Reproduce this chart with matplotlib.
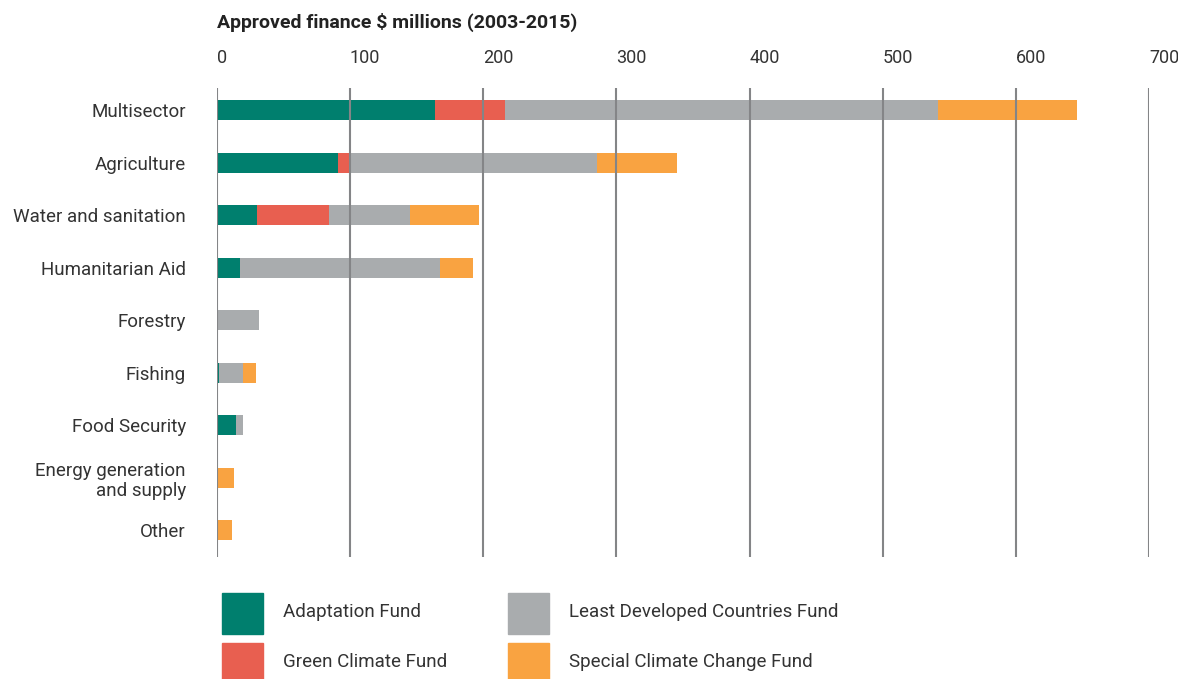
import matplotlib
matplotlib.use("Agg")
import matplotlib.pyplot as plt
from matplotlib.patches import Rectangle
import numpy as np

plt.rcParams['font.family'] = ['Roboto', 'DejaVu Sans']

# data
sectors = ['Multisector', 'Agriculture', 'Water and sanitation', 'Humanitarian Aid',
           'Forestry', 'Fishing', 'Food Security', 'Energy generation\nand supply', 'Other']
adaptation = [164, 91, 30.5, 17.5, 0, 2, 14.5, 0, 0]
green = [52.5, 8.5, 54, 0, 0, 0, 0, 0, 0]
ldcf = [325, 186, 60.5, 150, 32, 18, 5.5, 0, 0]
sccf = [104.5, 60, 52, 25, 0, 9.5, 0, 13, 11.5]

fund_names = ['Adaptation Fund', 'Green Climate Fund',
              'Least Developed Countries Fund', 'Special Climate Change Fund']
colors = ['#007f6e', '#e85f50', '#a9acae', '#f9a341']
xticks = [0, 100, 200, 300, 400, 500, 600, 700]

fig = plt.figure(figsize=(11.78, 6.79), dpi=100)
ax = fig.add_axes([0.1838, 0.1797, 0.7918, 0.6907])

y = np.arange(len(sectors))
left = np.zeros(len(sectors))
for vals, col, name in zip([adaptation, green, ldcf, sccf], colors, fund_names):
    ax.barh(y, vals, left=left, height=0.38, color=col, label=name, zorder=2)
    left = left + np.array(vals)

# grid lines sit on top of the bars
for t in xticks:
    ax.axvline(t, color='#848587', lw=1.5, zorder=3)

ax.set_xlim(0, 700)
ax.set_ylim(8.51, -0.42)
ax.set_yticks(y)
ax.set_yticklabels(sectors, fontsize=13.5, color='#333333', multialignment='right',
                   linespacing=1.2)
ax.tick_params(axis='y', length=0, pad=22)
ax.xaxis.tick_top()
ax.set_xticks(xticks)
ax.set_xticklabels([str(t) for t in xticks], fontsize=13, color='#333333', ha='left')
ax.tick_params(axis='x', length=0, pad=15)
for s in ax.spines.values():
    s.set_visible(False)

fig.text(216.5 / 1178, 1 - 22 / 679, 'Approved finance \\$ millions (2003-2015)',
         fontsize=14, fontweight='bold', color='#222222', va='center', ha='left')

# legend drawn by hand, two columns
leg_pos = [(222, 593), (222, 643), (508, 593), (508, 643)]
for (px, py), col, name in zip(leg_pos, colors, fund_names):
    fig.patches.append(Rectangle((px / 1178, 1 - (py + 41) / 679), 41 / 1178, 41 / 679,
                                 transform=fig.transFigure, color=col))
    fig.text((px + 61) / 1178, 1 - (py + 19) / 679, name, fontsize=13.5,
             color='#333333', va='center', ha='left')

fig.savefig('out.png', dpi=100)
